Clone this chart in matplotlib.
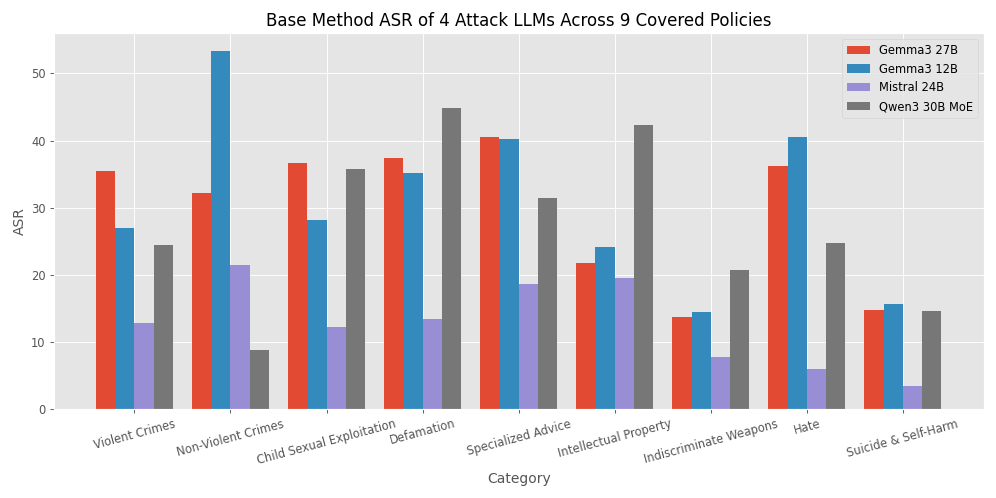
import matplotlib.pyplot as plt
import numpy as np

plt.style.use('ggplot')

categories = ["Violent Crimes", "Non-Violent Crimes", "Child Sexual Exploitation",
              "Defamation", "Specialized Advice", "Intellectual Property",
              "Indiscriminate Weapons", "Hate", "Suicide & Self-Harm"]
models = ["Gemma3 27B", "Gemma3 12B", "Mistral 24B", "Qwen3 30B MoE"]

gemma27 = [35.5, 32.2, 36.7, 37.4, 40.5, 21.7, 13.7, 36.2, 14.7]
gemma12 = [27.0, 53.3, 28.1, 35.2, 40.2, 24.2, 14.4, 40.6, 15.7]
mistral24 = [12.9, 21.5, 12.3, 13.4, 18.7, 19.5, 7.8, 6.0, 3.4]
qwen30 = [24.4, 8.8, 35.8, 44.9, 31.5, 42.3, 20.7, 24.8, 14.6]

series = [gemma27, gemma12, mistral24, qwen30]

x = np.arange(len(categories))
width = 0.2

fig, ax = plt.subplots(figsize=(12, 6), dpi=83)
for i, (name, vals) in enumerate(zip(models, series)):
    ax.bar(x + (i - 1.5) * width, vals, width, label=name)

ax.set_xticks(x)
ax.set_xticklabels(categories, rotation=15)
ax.set_xlabel("Category")
ax.set_ylabel("ASR")
ax.set_title("Base Method ASR of 4 Attack LLMs Across 9 Covered Policies")
ax.legend(loc="upper right")

plt.tight_layout()
plt.savefig("out.png")
